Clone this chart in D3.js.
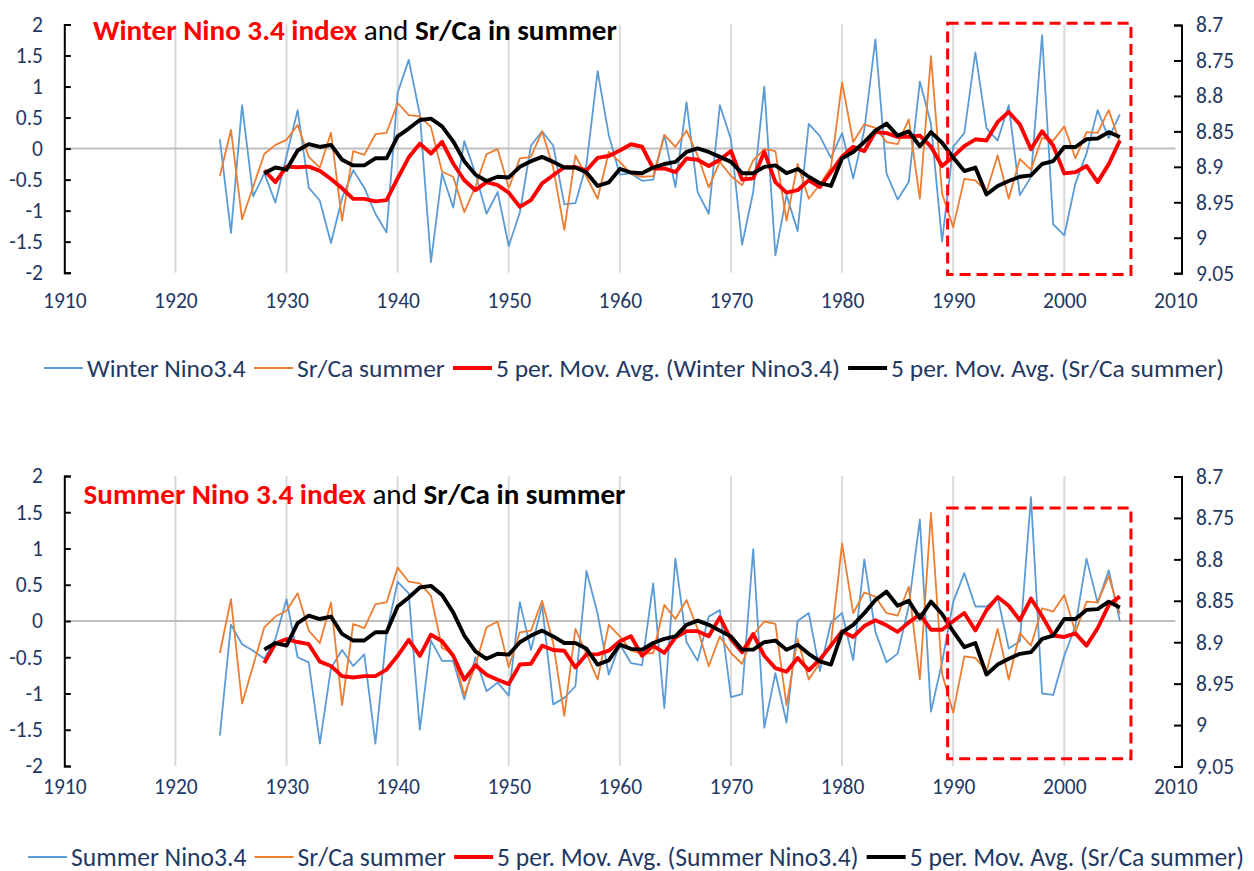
<!DOCTYPE html>
<html><head><meta charset="utf-8">
<script src="https://cdn.jsdelivr.net/npm/d3@7"></script>
<style>
body{margin:0;background:#fff;}
svg{display:block;}
text{font-family: Carlito, Calibri, Lato, sans-serif;}
</style></head><body>
<svg id="chart" width="1254" height="871"></svg>
<script>
// ---------------- DATA ----------------
const firstYear = 1924, lastYear = 2005, maFirstYear = 1928;
const years = d3.range(firstYear, lastYear + 1);
const maYears = d3.range(maFirstYear, lastYear + 1);

const winterNino = [0.15,-1.36,0.70,-0.77,-0.40,-0.87,-0.12,0.62,-0.63,-0.84,-1.52,-0.80,-0.35,-0.63,-1.05,-1.35,0.90,1.43,0.55,-1.83,
 -0.40,-0.95,0.12,-0.40,-1.05,-0.70,-1.57,-1.03,0.05,0.28,0.05,-0.90,-0.88,-0.25,1.25,0.22,-0.42,-0.40,-0.52,-0.50,
 0.22,-0.62,0.75,-0.70,-1.05,0.70,0.15,-1.55,-0.70,1.00,-1.72,-0.75,-1.33,0.40,0.20,-0.15,0.25,-0.48,0.30,1.76,
 -0.40,-0.82,-0.54,1.08,0.40,-1.50,0.03,0.25,1.55,0.33,0.13,0.70,-0.75,-0.46,1.83,-1.22,-1.40,-0.56,-0.08,0.62,0.17,0.55];

const summerNino = [-1.58,-0.05,-0.32,-0.41,-0.52,-0.25,0.30,-0.50,-0.57,-1.69,-0.65,-0.40,-0.62,-0.46,-1.69,-0.17,0.54,0.38,-1.50,-0.27,
 -0.55,-0.55,-1.08,-0.50,-0.97,-0.85,-1.03,0.26,-0.40,0.22,-1.15,-1.06,-0.90,0.69,0.10,-0.74,-0.32,-0.58,-0.61,0.52,
 -1.20,0.86,-0.29,-0.55,0.06,0.15,-1.05,-1.01,0.99,-1.47,-0.72,-1.40,0.00,0.11,-0.69,-0.02,0.11,-0.54,0.85,-0.15,
 -0.57,-0.45,0.20,1.40,-1.25,-0.57,0.26,0.66,0.20,0.20,0.33,-0.38,-0.28,1.71,-1.00,-1.02,-0.48,-0.07,0.86,0.25,0.70,0.00];

const srcaSummer = [8.913,8.848,8.974,8.928,8.882,8.869,8.862,8.841,8.886,8.901,8.852,8.976,8.878,8.883,8.854,8.852,8.810,8.827,8.829,8.844,
 8.907,8.914,8.964,8.928,8.882,8.875,8.930,8.888,8.886,8.850,8.901,8.989,8.884,8.914,8.945,8.879,8.893,8.910,8.914,8.913,
 8.855,8.872,8.849,8.884,8.929,8.893,8.913,8.926,8.891,8.875,8.878,8.976,8.896,8.945,8.925,8.901,8.781,8.865,8.840,8.845,
 8.865,8.868,8.833,8.945,8.744,8.938,8.985,8.917,8.919,8.935,8.884,8.945,8.889,8.904,8.859,8.863,8.843,8.888,8.851,8.852,8.820,8.866];

const winterNinoMA5 = [-0.35,-0.54,-0.29,-0.30,-0.29,-0.36,-0.49,-0.64,-0.81,-0.81,-0.85,-0.83,-0.48,-0.14,0.08,-0.08,
 0.11,-0.24,-0.51,-0.67,-0.54,-0.59,-0.71,-0.94,-0.83,-0.56,-0.43,-0.30,-0.30,-0.35,-0.15,-0.12,-0.03,0.07,0.03,-0.32,
 -0.32,-0.38,-0.16,-0.18,-0.28,-0.18,-0.04,-0.50,-0.48,-0.05,-0.54,-0.71,-0.67,-0.51,-0.62,-0.38,-0.13,0.03,-0.04,0.27,
 0.25,0.19,0.19,0.21,0.03,-0.28,-0.13,0.04,0.15,0.13,0.43,0.59,0.39,-0.01,0.28,0.05,-0.40,-0.38,-0.28,-0.54,-0.25,0.13];

const summerNinoMA5 = [-0.58,-0.31,-0.25,-0.29,-0.32,-0.56,-0.62,-0.76,-0.78,-0.76,-0.76,-0.67,-0.48,-0.26,-0.48,-0.19,
 -0.28,-0.48,-0.81,-0.61,-0.74,-0.81,-0.87,-0.60,-0.59,-0.34,-0.40,-0.41,-0.64,-0.46,-0.46,-0.41,-0.28,-0.21,-0.48,-0.34,
 -0.44,-0.23,-0.14,-0.14,-0.21,0.05,-0.25,-0.43,-0.18,-0.48,-0.65,-0.70,-0.51,-0.68,-0.53,-0.34,-0.14,-0.22,-0.07,0.01,
 -0.06,-0.15,-0.02,0.09,-0.12,-0.12,0.00,0.11,-0.13,0.15,0.33,0.21,0.01,0.31,0.07,-0.20,-0.22,-0.17,-0.34,-0.10,0.22,0.34];

const srcaSummerMA5 = [8.909,8.901,8.904,8.877,8.868,8.872,8.869,8.890,8.898,8.898,8.888,8.888,8.857,8.846,8.834,8.832,
 8.843,8.864,8.892,8.911,8.920,8.914,8.915,8.900,8.892,8.886,8.893,8.901,8.901,8.908,8.927,8.922,8.903,8.908,8.909,8.901,
 8.896,8.893,8.879,8.874,8.879,8.886,8.893,8.909,8.909,8.900,8.898,8.909,8.903,8.914,8.923,8.927,8.888,8.879,8.865,8.849,
 8.839,8.856,8.850,8.871,8.851,8.866,8.887,8.906,8.901,8.939,8.927,8.920,8.914,8.912,8.896,8.892,8.872,8.872,8.861,8.860,8.851,8.858];

const xTicks = [1910,1920,1930,1940,1950,1960,1970,1980,1990,2000,2010];
const leftTicks = [-2,-1.5,-1,-0.5,0,0.5,1,1.5,2];
const rightTicks = [8.7,8.75,8.8,8.85,8.9,8.95,9,9.05];

const titleWinter = ["Winter Nino 3.4 index", " and ", "Sr/Ca in summer"];
const titleSummer = ["Summer Nino 3.4 index", " and ", "Sr/Ca in summer"];
const legendWinter = ["Winter Nino3.4", "Sr/Ca summer", "5 per. Mov. Avg. (Winter Nino3.4)", "5 per. Mov. Avg. (Sr/Ca summer)"];
const legendSummer = ["Summer Nino3.4", "Sr/Ca summer", "5 per. Mov. Avg. (Summer Nino3.4)", "5 per. Mov. Avg. (Sr/Ca summer)"];

// ---------------- STYLE / LAYOUT ----------------
const FONT = "Carlito, Calibri, Lato, sans-serif";
const C = {blue:"#5B9BD5", orange:"#ED7D31", red:"#FF0000", black:"#000000", navy:"#1F3864", grid:"#D9D9D9", zero:"#BFBFBF"};
const svg = d3.select("#chart");
svg.append("rect").attr("width",1254).attr("height",871).attr("fill","#fff");

const x = d3.scaleLinear().domain([1910, 2010]).range([64.3, 1175.4]);

const panels = [
  {top:24.5, bottom:272.7, nino:winterNino, ninoMA:winterNinoMA5, title:titleWinter, titleX:93, titleY:39.5, titleW:524,
   legend:legendWinter, legendY:368, legendX0:44, legendX1:1224, xLabelY:300, box:[1989.5, 2006, 2.02, -2.03]},
  {top:476, bottom:766, nino:summerNino, ninoMA:summerNinoMA5, title:titleSummer, titleX:83.5, titleY:504, titleW:542,
   legend:legendSummer, legendY:857, legendX0:28, legendX1:1244, xLabelY:786, box:[1989.5, 2006, 1.56, -1.90]}
];

panels.forEach(p => {
  const yL = d3.scaleLinear().domain([-2, 2]).range([p.bottom, p.top]);
  const yR = d3.scaleLinear().domain([9.05, 8.7]).range([p.bottom + 0.5, p.top + 0.5]);
  const g = svg.append("g");

  // vertical gridlines
  g.append("g").selectAll("line").data(xTicks.slice(1, -1)).join("line")
    .attr("x1", d => x(d)).attr("x2", d => x(d)).attr("y1", p.top).attr("y2", p.bottom)
    .attr("stroke", C.grid).attr("stroke-width", 2);
  // zero line
  g.append("line").attr("x1", x(1910)).attr("x2", x(2010)).attr("y1", yL(0)).attr("y2", yL(0))
    .attr("stroke", C.zero).attr("stroke-width", 2);

  // left axis
  const axL = g.append("g").attr("transform", `translate(${x(1910)},0)`)
    .call(d3.axisLeft(yL).tickValues(leftTicks).tickFormat(d => String(d))
      .tickSizeInner(-6.5).tickSizeOuter(-6.5).tickPadding(21.3));
  // right axis
  const axR = g.append("g").attr("transform", `translate(1181.5,0)`)
    .call(d3.axisRight(yR).tickValues(rightTicks).tickFormat(d => String(d))
      .tickSizeInner(-7.5).tickSizeOuter(-7.5).tickPadding(14.5));
  [axL, axR].forEach(a => {
    a.select(".domain").attr("stroke", "#000").attr("stroke-width", 2);
    a.selectAll(".tick line").attr("stroke", "#000").attr("stroke-width", 2);
    a.selectAll(".tick text").attr("fill", C.navy).attr("font-size", 21.5).style("font-family", FONT);
  });
  // x axis labels
  const axX = g.append("g").attr("transform", `translate(0,${p.xLabelY})`)
    .call(d3.axisBottom(x).tickValues(xTicks).tickFormat(d3.format("d")).tickSize(0).tickPadding(0));
  axX.select(".domain").remove();
  axX.selectAll(".tick text").attr("fill", C.navy).attr("font-size", 21.5).attr("dy", "0.35em")
    .style("font-family", FONT);

  // series
  const lineL = d3.line().x(d => x(d[0])).y(d => yL(d[1]));
  const lineR = d3.line().x(d => x(d[0])).y(d => yR(d[1]));
  g.append("path").datum(years.map((yr, i) => [yr, p.nino[i]])).attr("d", lineL)
    .attr("fill", "none").attr("stroke", C.blue).attr("stroke-width", 1.8).attr("stroke-linejoin", "round");
  g.append("path").datum(years.map((yr, i) => [yr, srcaSummer[i]])).attr("d", lineR)
    .attr("fill", "none").attr("stroke", C.orange).attr("stroke-width", 1.8).attr("stroke-linejoin", "round");
  g.append("path").datum(maYears.map((yr, i) => [yr, p.ninoMA[i]])).attr("d", lineL)
    .attr("fill", "none").attr("stroke", C.red).attr("stroke-width", 3.9).attr("stroke-linejoin", "round");
  g.append("path").datum(maYears.map((yr, i) => [yr, srcaSummerMA5[i]])).attr("d", lineR)
    .attr("fill", "none").attr("stroke", C.black).attr("stroke-width", 3.9).attr("stroke-linejoin", "round");

  // dashed highlight box
  const b = p.box;
  g.append("rect").attr("x", x(b[0])).attr("y", yL(b[2])).attr("width", x(b[1]) - x(b[0]))
    .attr("height", yL(b[3]) - yL(b[2])).attr("fill", "none").attr("stroke", C.red)
    .attr("stroke-width", 3).attr("stroke-dasharray", "11,6");

  // title
  const t = g.append("text").attr("x", p.titleX).attr("y", p.titleY).attr("font-size", 27);
  t.append("tspan").text(p.title[0]).attr("fill", C.red).attr("font-weight", "bold");
  t.append("tspan").text(p.title[1]).attr("fill", "#000");
  t.append("tspan").text(p.title[2]).attr("fill", "#000").attr("font-weight", "bold");
  const tw = t.node().getComputedTextLength();
  t.attr("font-size", 27 * p.titleW / tw);

  // legend
  const colors = [C.blue, C.orange, C.red, C.black];
  const widths = [1.8, 1.8, 4, 4];
  const lg = g.append("g");
  const texts = p.legend.map(s => lg.append("text").text(s).attr("font-size", 20).attr("fill", C.navy)
      .attr("y", p.legendY).attr("dominant-baseline", "central"));
  const lineLen = 39, gapLT = 4;
  const total = p.legendX1 - p.legendX0;
  const textTarget = total - 4 * (lineLen + gapLT) - 3 * 8;
  const measured = d3.sum(texts, t => t.node().getComputedTextLength());
  const fs = 20 * textTarget / measured;
  texts.forEach(t => t.attr("font-size", fs));
  const tws = texts.map(t => t.node().getComputedTextLength());
  const gapTL = (total - 4 * (lineLen + gapLT) - d3.sum(tws)) / 3;
  let cx = p.legendX0;
  texts.forEach((t, i) => {
    lg.append("line").attr("x1", cx).attr("x2", cx + lineLen).attr("y1", p.legendY).attr("y2", p.legendY)
      .attr("stroke", colors[i]).attr("stroke-width", widths[i]);
    cx += lineLen + gapLT;
    t.attr("x", cx);
    cx += tws[i] + gapTL;
  });
});
</script>
</body></html>
